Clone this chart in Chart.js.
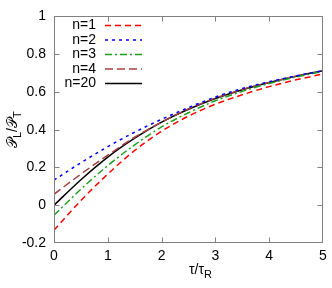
<!DOCTYPE html>
<html>
<head>
<meta charset="utf-8">
<script src="https://cdn.jsdelivr.net/npm/chart.js@4"></script>
<style>
  html, body { margin: 0; padding: 0; background: #fff; }
  #wrap { width: 332px; height: 288px; position: relative; }
</style>
</head>
<body>
<div id="wrap"><canvas id="c"></canvas></div>
<script>
// tau / tau_R sample points
const tau = [0, 0.5, 1, 1.5, 2, 2.5, 3, 3.5, 4, 4.5, 5];

// P_L / P_T
const n1  = [-0.132, 0.025, 0.165, 0.290, 0.392, 0.472, 0.535, 0.585, 0.628, 0.664, 0.695];
const n2  = [ 0.133, 0.225, 0.310, 0.387, 0.455, 0.517, 0.573, 0.618, 0.654, 0.685, 0.713];
const n3  = [-0.053, 0.085, 0.210, 0.320, 0.415, 0.490, 0.553, 0.603, 0.645, 0.679, 0.709];
const n4  = [ 0.058, 0.165, 0.265, 0.360, 0.440, 0.510, 0.567, 0.613, 0.650, 0.683, 0.711];
const n20 = [ 0.000, 0.135, 0.255, 0.355, 0.440, 0.508, 0.565, 0.612, 0.650, 0.683, 0.712];

const labels = ["n=1", "n=2", "n=3", "n=4", "n=20"];
const xTicks = [0, 1, 2, 3, 4, 5];
const yTicks = [-0.2, 0, 0.2, 0.4, 0.6, 0.8, 1];

const FONT = "'Liberation Sans', Arial, sans-serif";

function pts(ys) {
    return tau.map((t, i) => ({ x: t, y: ys[i] }));
}

function series(label, ys, color, dash) {
    return {
        label: label,
        data: pts(ys),
        borderColor: color,
        borderWidth: 1.5,
        borderDash: dash,
        pointRadius: 0,
        fill: false,
        cubicInterpolationMode: "monotone",
    };
}

// frame, inward ticks, axis titles and gnuplot-like key
const decor = {
    id: "decor",
    afterDraw(chart) {
        const ctx = chart.ctx;
        const a = chart.chartArea;
        const xs = chart.scales.x, ys = chart.scales.y;
        const L = Math.round(a.left) + 0.5, R = Math.round(a.right) - 0.5;
        const T = Math.round(a.top) + 0.5, B = Math.round(a.bottom) - 0.5;
        ctx.save();
        ctx.strokeStyle = "#808080";
        ctx.lineWidth = 1;
        ctx.setLineDash([]);
        ctx.strokeRect(L, T, R - L, B - T);
        ctx.beginPath();
        xTicks.slice(1, -1).forEach(v => {
            const p = Math.round(xs.getPixelForValue(v)) + 0.5;
            ctx.moveTo(p, B); ctx.lineTo(p, B - 5);
            ctx.moveTo(p, T); ctx.lineTo(p, T + 5);
        });
        yTicks.slice(1, -1).forEach(v => {
            const p = Math.round(ys.getPixelForValue(v)) + 0.5;
            ctx.moveTo(L, p); ctx.lineTo(L + 5, p);
            ctx.moveTo(R, p); ctx.lineTo(R - 5, p);
        });
        ctx.stroke();

        // x title: tau/tau_R
        ctx.fillStyle = "#000";
        ctx.textBaseline = "alphabetic";
        ctx.font = "14px " + FONT;
        const main = "\u03c4/\u03c4";
        const w1 = ctx.measureText(main).width;
        ctx.font = "11px " + FONT;
        const w2 = ctx.measureText("R").width;
        let x0 = (a.left + a.right) / 2 + 12 - (w1 + w2) / 2;
        ctx.font = "14px " + FONT;
        ctx.textAlign = "left";
        ctx.fillText(main, x0, 274);
        ctx.font = "11px " + FONT;
        ctx.fillText("R", x0 + w1, 278);

        // y title: P_L / P_T
        ctx.save();
        ctx.translate(17, (a.top + a.bottom) / 2);
        ctx.rotate(-Math.PI / 2);
        const parts = [["\ud835\udcab", 14, 0], ["L", 11, 4], ["/", 14, 0], ["\ud835\udcab", 14, 0], ["T", 11, 4]];
        let tw = 0;
        parts.forEach(p => { ctx.font = p[1] + "px " + FONT; tw += ctx.measureText(p[0]).width; });
        let cx = -tw / 2;
        parts.forEach(p => {
            ctx.font = p[1] + "px " + FONT;
            ctx.fillText(p[0], cx, p[2]);
            cx += ctx.measureText(p[0]).width;
        });
        ctx.restore();

        // key
        chart.data.datasets.forEach((ds, i) => {
            const y = a.top + 9 + i * 14.5;
            ctx.font = "14px " + FONT;
            ctx.textAlign = "right";
            ctx.textBaseline = "middle";
            ctx.fillStyle = "#000";
            ctx.fillText(ds.label, 96, y);
            ctx.strokeStyle = ds.borderColor;
            ctx.lineWidth = ds.borderWidth;
            ctx.setLineDash(ds.borderDash || []);
            ctx.beginPath();
            ctx.moveTo(105, y);
            ctx.lineTo(142, y);
            ctx.stroke();
        });
        ctx.restore();
    },
};

new Chart(document.getElementById("c"), {
    type: "line",
    data: {
        datasets: [
            series(labels[0], n1, "#ff0000", [6, 4]),
            series(labels[1], n2, "#0000ff", [3, 4]),
            series(labels[2], n3, "#1e9e1e", [7, 3, 2, 3]),
            series(labels[3], n4, "#a84040", [8, 4]),
            series(labels[4], n20, "#000000", []),
        ],
    },
    options: {
        responsive: true,
        maintainAspectRatio: false,
        animation: false,
        layout: { padding: { top: 7, right: 9, left: 0, bottom: 0 } },
        plugins: {
            legend: { display: false },
            tooltip: { enabled: false },
        },
        scales: {
            x: {
                type: "linear",
                min: 0,
                max: 5,
                afterBuildTicks: (s) => { s.ticks = xTicks.map(v => ({ value: v })); },
                afterFit: (s) => { s.height = 45; },
                grid: { display: false, drawTicks: false },
                border: { display: false },
                ticks: {
                    padding: 5,
                    color: "#000",
                    font: { size: 14, family: FONT },
                    callback: (v) => String(v),
                },
            },
            y: {
                min: -0.2,
                max: 1,
                afterBuildTicks: (s) => { s.ticks = yTicks.map(v => ({ value: v })); },
                afterFit: (s) => { s.width = 54; },
                grid: { display: false, drawTicks: false },
                border: { display: false },
                ticks: {
                    padding: 8,
                    color: "#000",
                    font: { size: 14, family: FONT },
                    callback: (v) => String(v),
                },
            },
        },
    },
    plugins: [decor],
});
</script>
</body>
</html>
